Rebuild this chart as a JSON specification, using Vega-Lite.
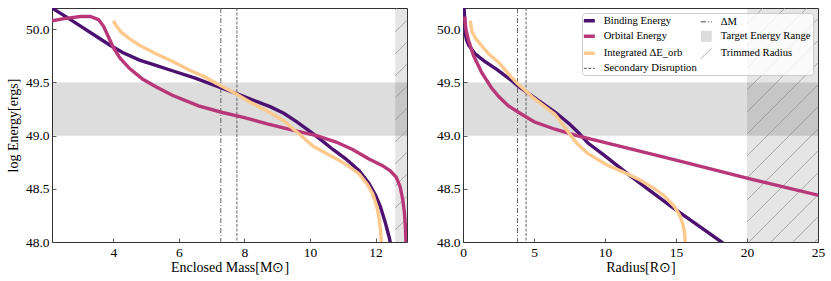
{
  "$schema": "https://vega.github.io/schema/vega-lite/v6.json",
  "padding": {"left": 5, "top": 7, "right": 5, "bottom": 0},
  "spacing": 27,
  "datasets": {
    "bands": [{"lo": 49.0, "hi": 49.5}],
    "left_trim": [{"m1": 12.6, "m2": 12.96}],
    "right_trim": [{"r1": 20, "r2": 25}],
    "left_hatch": [
      {"m1": 12.905, "e1": 48.0, "m2": 12.96, "e2": 48.017},
      {"m1": 12.6, "e1": 48.113, "m2": 12.96, "e2": 48.224},
      {"m1": 12.6, "e1": 48.32, "m2": 12.96, "e2": 48.431},
      {"m1": 12.6, "e1": 48.527, "m2": 12.96, "e2": 48.638},
      {"m1": 12.6, "e1": 48.733, "m2": 12.96, "e2": 48.844},
      {"m1": 12.6, "e1": 48.94, "m2": 12.96, "e2": 49.051},
      {"m1": 12.6, "e1": 49.147, "m2": 12.96, "e2": 49.258},
      {"m1": 12.6, "e1": 49.354, "m2": 12.96, "e2": 49.465},
      {"m1": 12.6, "e1": 49.561, "m2": 12.96, "e2": 49.672},
      {"m1": 12.6, "e1": 49.768, "m2": 12.96, "e2": 49.879},
      {"m1": 12.6, "e1": 49.974, "m2": 12.96, "e2": 50.085},
      {"m1": 12.6, "e1": 50.181, "m2": 12.661, "e2": 50.2}
    ],
    "right_hatch": [
      {"r1": 24.775, "e1": 48.0, "r2": 25, "e2": 48.03},
      {"r1": 23.23, "e1": 48.0, "r2": 25, "e2": 48.237},
      {"r1": 21.685, "e1": 48.0, "r2": 25, "e2": 48.444},
      {"r1": 20.14, "e1": 48.0, "r2": 25, "e2": 48.651},
      {"r1": 20, "e1": 48.188, "r2": 25, "e2": 48.857},
      {"r1": 20, "e1": 48.395, "r2": 25, "e2": 49.064},
      {"r1": 20, "e1": 48.602, "r2": 25, "e2": 49.271},
      {"r1": 20, "e1": 48.809, "r2": 25, "e2": 49.478},
      {"r1": 20, "e1": 49.015, "r2": 25, "e2": 49.685},
      {"r1": 20, "e1": 49.222, "r2": 25, "e2": 49.892},
      {"r1": 20, "e1": 49.429, "r2": 25, "e2": 50.099},
      {"r1": 20, "e1": 49.636, "r2": 24.213, "e2": 50.2},
      {"r1": 20, "e1": 49.843, "r2": 22.669, "e2": 50.2},
      {"r1": 20, "e1": 50.05, "r2": 21.124, "e2": 50.2}
    ],
    "left_markers": [
      {"line": "ΔM", "mass": 7.28},
      {"line": "Secondary Disruption", "mass": 7.77}
    ],
    "right_markers": [
      {"line": "ΔM", "radius": 3.84},
      {"line": "Secondary Disruption", "radius": 4.44}
    ],
    "left_energy": [
      {"series": "Binding Energy", "mass": 2.13, "energy": 50.2},
      {"series": "Binding Energy", "mass": 2.6, "energy": 50.11},
      {"series": "Binding Energy", "mass": 3.0, "energy": 50.03},
      {"series": "Binding Energy", "mass": 3.5, "energy": 49.93},
      {"series": "Binding Energy", "mass": 3.9, "energy": 49.85},
      {"series": "Binding Energy", "mass": 4.3, "energy": 49.78},
      {"series": "Binding Energy", "mass": 4.8, "energy": 49.71},
      {"series": "Binding Energy", "mass": 5.3, "energy": 49.66},
      {"series": "Binding Energy", "mass": 5.8, "energy": 49.61},
      {"series": "Binding Energy", "mass": 6.5, "energy": 49.54},
      {"series": "Binding Energy", "mass": 7.28, "energy": 49.45},
      {"series": "Binding Energy", "mass": 7.8, "energy": 49.39},
      {"series": "Binding Energy", "mass": 8.3, "energy": 49.33},
      {"series": "Binding Energy", "mass": 8.8, "energy": 49.27},
      {"series": "Binding Energy", "mass": 9.2, "energy": 49.21},
      {"series": "Binding Energy", "mass": 9.6, "energy": 49.13},
      {"series": "Binding Energy", "mass": 10.0, "energy": 49.04},
      {"series": "Binding Energy", "mass": 10.3, "energy": 48.97},
      {"series": "Binding Energy", "mass": 10.7, "energy": 48.87},
      {"series": "Binding Energy", "mass": 11.1, "energy": 48.78},
      {"series": "Binding Energy", "mass": 11.5, "energy": 48.67},
      {"series": "Binding Energy", "mass": 11.8, "energy": 48.55},
      {"series": "Binding Energy", "mass": 12.0, "energy": 48.44},
      {"series": "Binding Energy", "mass": 12.15, "energy": 48.33},
      {"series": "Binding Energy", "mass": 12.3, "energy": 48.18},
      {"series": "Binding Energy", "mass": 12.42, "energy": 48.04},
      {"series": "Binding Energy", "mass": 12.46, "energy": 47.98},
      {"series": "Orbital Energy", "mass": 2.13, "energy": 50.08},
      {"series": "Orbital Energy", "mass": 2.5, "energy": 50.1},
      {"series": "Orbital Energy", "mass": 3.0, "energy": 50.12},
      {"series": "Orbital Energy", "mass": 3.3, "energy": 50.12},
      {"series": "Orbital Energy", "mass": 3.55, "energy": 50.09},
      {"series": "Orbital Energy", "mass": 3.7, "energy": 50.03},
      {"series": "Orbital Energy", "mass": 3.85, "energy": 49.93},
      {"series": "Orbital Energy", "mass": 4.0, "energy": 49.83},
      {"series": "Orbital Energy", "mass": 4.2, "energy": 49.73},
      {"series": "Orbital Energy", "mass": 4.5, "energy": 49.63},
      {"series": "Orbital Energy", "mass": 4.9, "energy": 49.53},
      {"series": "Orbital Energy", "mass": 5.3, "energy": 49.46},
      {"series": "Orbital Energy", "mass": 5.8, "energy": 49.38},
      {"series": "Orbital Energy", "mass": 6.6, "energy": 49.28},
      {"series": "Orbital Energy", "mass": 7.3, "energy": 49.22},
      {"series": "Orbital Energy", "mass": 8.0, "energy": 49.17},
      {"series": "Orbital Energy", "mass": 8.7, "energy": 49.11},
      {"series": "Orbital Energy", "mass": 9.5, "energy": 49.05},
      {"series": "Orbital Energy", "mass": 10.2, "energy": 49.0},
      {"series": "Orbital Energy", "mass": 10.8, "energy": 48.94},
      {"series": "Orbital Energy", "mass": 11.3, "energy": 48.87},
      {"series": "Orbital Energy", "mass": 11.8, "energy": 48.78},
      {"series": "Orbital Energy", "mass": 12.2, "energy": 48.72},
      {"series": "Orbital Energy", "mass": 12.45, "energy": 48.67},
      {"series": "Orbital Energy", "mass": 12.63, "energy": 48.61},
      {"series": "Orbital Energy", "mass": 12.75, "energy": 48.52},
      {"series": "Orbital Energy", "mass": 12.83, "energy": 48.4},
      {"series": "Orbital Energy", "mass": 12.88, "energy": 48.28},
      {"series": "Orbital Energy", "mass": 12.91, "energy": 48.15},
      {"series": "Orbital Energy", "mass": 12.93, "energy": 47.98},
      {"series": "Integrated ΔE_orb", "mass": 4.0, "energy": 50.08},
      {"series": "Integrated ΔE_orb", "mass": 4.1, "energy": 50.03},
      {"series": "Integrated ΔE_orb", "mass": 4.25, "energy": 49.97},
      {"series": "Integrated ΔE_orb", "mass": 4.5, "energy": 49.91},
      {"series": "Integrated ΔE_orb", "mass": 4.8, "energy": 49.85},
      {"series": "Integrated ΔE_orb", "mass": 5.3, "energy": 49.77},
      {"series": "Integrated ΔE_orb", "mass": 5.8, "energy": 49.7},
      {"series": "Integrated ΔE_orb", "mass": 6.3, "energy": 49.62},
      {"series": "Integrated ΔE_orb", "mass": 6.8, "energy": 49.55},
      {"series": "Integrated ΔE_orb", "mass": 7.28, "energy": 49.47},
      {"series": "Integrated ΔE_orb", "mass": 7.7, "energy": 49.4},
      {"series": "Integrated ΔE_orb", "mass": 8.2, "energy": 49.31},
      {"series": "Integrated ΔE_orb", "mass": 8.7, "energy": 49.23},
      {"series": "Integrated ΔE_orb", "mass": 9.2, "energy": 49.14},
      {"series": "Integrated ΔE_orb", "mass": 9.5, "energy": 49.06},
      {"series": "Integrated ΔE_orb", "mass": 9.8, "energy": 48.98},
      {"series": "Integrated ΔE_orb", "mass": 10.1, "energy": 48.9},
      {"series": "Integrated ΔE_orb", "mass": 10.7, "energy": 48.8},
      {"series": "Integrated ΔE_orb", "mass": 11.1, "energy": 48.73},
      {"series": "Integrated ΔE_orb", "mass": 11.5, "energy": 48.64},
      {"series": "Integrated ΔE_orb", "mass": 11.75, "energy": 48.54},
      {"series": "Integrated ΔE_orb", "mass": 11.92, "energy": 48.45},
      {"series": "Integrated ΔE_orb", "mass": 12.05, "energy": 48.32},
      {"series": "Integrated ΔE_orb", "mass": 12.12, "energy": 48.2},
      {"series": "Integrated ΔE_orb", "mass": 12.16, "energy": 48.08},
      {"series": "Integrated ΔE_orb", "mass": 12.18, "energy": 47.98}
    ],
    "right_energy": [
      {"series": "Binding Energy", "radius": 0.08, "energy": 50.2},
      {"series": "Binding Energy", "radius": 0.12, "energy": 50.08},
      {"series": "Binding Energy", "radius": 0.16, "energy": 49.96},
      {"series": "Binding Energy", "radius": 0.25, "energy": 49.9},
      {"series": "Binding Energy", "radius": 0.4, "energy": 49.85},
      {"series": "Binding Energy", "radius": 0.85, "energy": 49.77},
      {"series": "Binding Energy", "radius": 1.5, "energy": 49.7},
      {"series": "Binding Energy", "radius": 2.4, "energy": 49.62},
      {"series": "Binding Energy", "radius": 3.4, "energy": 49.52},
      {"series": "Binding Energy", "radius": 3.84, "energy": 49.47},
      {"series": "Binding Energy", "radius": 5.0, "energy": 49.36},
      {"series": "Binding Energy", "radius": 6.5, "energy": 49.22},
      {"series": "Binding Energy", "radius": 7.5, "energy": 49.11},
      {"series": "Binding Energy", "radius": 8.12, "energy": 49.03},
      {"series": "Binding Energy", "radius": 8.8, "energy": 48.93},
      {"series": "Binding Energy", "radius": 10.0, "energy": 48.81},
      {"series": "Binding Energy", "radius": 11.6, "energy": 48.64},
      {"series": "Binding Energy", "radius": 13.0, "energy": 48.5},
      {"series": "Binding Energy", "radius": 14.7, "energy": 48.33},
      {"series": "Binding Energy", "radius": 16.5, "energy": 48.16},
      {"series": "Binding Energy", "radius": 18.2, "energy": 48.0},
      {"series": "Binding Energy", "radius": 18.4, "energy": 47.98},
      {"series": "Orbital Energy", "radius": 0.12, "energy": 50.12},
      {"series": "Orbital Energy", "radius": 0.2, "energy": 50.0},
      {"series": "Orbital Energy", "radius": 0.4, "energy": 49.89},
      {"series": "Orbital Energy", "radius": 0.75, "energy": 49.75},
      {"series": "Orbital Energy", "radius": 1.33, "energy": 49.59},
      {"series": "Orbital Energy", "radius": 2.0, "energy": 49.45},
      {"series": "Orbital Energy", "radius": 2.5, "energy": 49.37},
      {"series": "Orbital Energy", "radius": 3.2, "energy": 49.28},
      {"series": "Orbital Energy", "radius": 3.9, "energy": 49.22},
      {"series": "Orbital Energy", "radius": 5.0, "energy": 49.13},
      {"series": "Orbital Energy", "radius": 6.48, "energy": 49.06},
      {"series": "Orbital Energy", "radius": 8.0, "energy": 49.0},
      {"series": "Orbital Energy", "radius": 9.52, "energy": 48.95},
      {"series": "Orbital Energy", "radius": 15.0, "energy": 48.77},
      {"series": "Orbital Energy", "radius": 20.0, "energy": 48.6},
      {"series": "Orbital Energy", "radius": 25.0, "energy": 48.44},
      {"series": "Integrated ΔE_orb", "radius": 0.51, "energy": 50.08},
      {"series": "Integrated ΔE_orb", "radius": 0.63, "energy": 49.98},
      {"series": "Integrated ΔE_orb", "radius": 0.86, "energy": 49.92},
      {"series": "Integrated ΔE_orb", "radius": 1.22, "energy": 49.86},
      {"series": "Integrated ΔE_orb", "radius": 1.8, "energy": 49.77},
      {"series": "Integrated ΔE_orb", "radius": 2.5, "energy": 49.69},
      {"series": "Integrated ΔE_orb", "radius": 3.2, "energy": 49.58},
      {"series": "Integrated ΔE_orb", "radius": 3.84, "energy": 49.49},
      {"series": "Integrated ΔE_orb", "radius": 5.0, "energy": 49.35},
      {"series": "Integrated ΔE_orb", "radius": 6.48, "energy": 49.2},
      {"series": "Integrated ΔE_orb", "radius": 7.1, "energy": 49.09},
      {"series": "Integrated ΔE_orb", "radius": 7.6, "energy": 49.0},
      {"series": "Integrated ΔE_orb", "radius": 8.0, "energy": 48.93},
      {"series": "Integrated ΔE_orb", "radius": 8.8, "energy": 48.83},
      {"series": "Integrated ΔE_orb", "radius": 10.2, "energy": 48.72},
      {"series": "Integrated ΔE_orb", "radius": 11.6, "energy": 48.64},
      {"series": "Integrated ΔE_orb", "radius": 12.5, "energy": 48.58},
      {"series": "Integrated ΔE_orb", "radius": 13.5, "energy": 48.5},
      {"series": "Integrated ΔE_orb", "radius": 14.2, "energy": 48.43},
      {"series": "Integrated ΔE_orb", "radius": 14.9, "energy": 48.33},
      {"series": "Integrated ΔE_orb", "radius": 15.3, "energy": 48.24},
      {"series": "Integrated ΔE_orb", "radius": 15.5, "energy": 48.16},
      {"series": "Integrated ΔE_orb", "radius": 15.62, "energy": 48.07},
      {"series": "Integrated ΔE_orb", "radius": 15.66, "energy": 47.98}
    ]
  },
  "hconcat": [
    {
      "width": 355,
      "height": 234,
      "layer": [
        {
          "data": {"name": "bands"},
          "mark": {"type": "rect", "fill": "#000000", "opacity": 0.135},
          "encoding": {
            "y": {"field": "lo", "type": "quantitative", "scale": {"domain": [48, 50.2], "nice": false, "zero": false}, "axis": {"title": "log Energy[ergs]", "values": [48, 48.5, 49, 49.5, 50], "format": ".1f"}},
            "y2": {"field": "hi"}
          }
        },
        {
          "data": {"name": "left_trim"},
          "mark": {"type": "rect", "fill": "#000000", "opacity": 0.1},
          "encoding": {
            "x": {"field": "m1", "type": "quantitative", "scale": {"domain": [2.13, 12.96], "nice": false, "zero": false}, "axis": {"title": "Enclosed Mass[M⊙]", "values": [4, 6, 8, 10, 12]}},
            "x2": {"field": "m2"}
          }
        },
        {
          "data": {"name": "left_hatch"},
          "mark": {"type": "rule", "color": "#8c8c8c", "strokeWidth": 0.7},
          "encoding": {
            "x": {"field": "m1", "type": "quantitative", "axis": {"title": "Enclosed Mass[M⊙]", "values": [4, 6, 8, 10, 12]}},
            "x2": {"field": "m2"},
            "y": {"field": "e1", "type": "quantitative", "axis": {"title": "log Energy[ergs]", "values": [48, 48.5, 49, 49.5, 50], "format": ".1f"}},
            "y2": {"field": "e2"}
          }
        },
        {
          "data": {"name": "left_markers"},
          "mark": {"type": "rule", "color": "#555555", "strokeWidth": 0.9},
          "encoding": {
            "x": {"field": "mass", "type": "quantitative", "axis": {"title": "Enclosed Mass[M⊙]", "values": [4, 6, 8, 10, 12]}},
            "strokeDash": {"field": "line", "type": "nominal", "scale": {"domain": ["ΔM", "Secondary Disruption"], "range": [[5, 2, 1, 2], [3, 1.5]]}, "legend": null}
          }
        },
        {
          "data": {"name": "left_energy"},
          "mark": {"type": "line", "strokeWidth": 3.4, "clip": true, "strokeCap": "butt"},
          "encoding": {
            "x": {"field": "mass", "type": "quantitative", "scale": {"domain": [2.13, 12.96], "nice": false, "zero": false}, "axis": {"title": "Enclosed Mass[M⊙]", "values": [4, 6, 8, 10, 12]}},
            "y": {"field": "energy", "type": "quantitative", "scale": {"domain": [48, 50.2], "nice": false, "zero": false}, "axis": {"title": "log Energy[ergs]", "values": [48, 48.5, 49, 49.5, 50], "format": ".1f"}},
            "color": {"field": "series", "type": "nominal", "scale": {"domain": ["Binding Energy", "Orbital Energy", "Integrated ΔE_orb", "Secondary Disruption", "ΔM", "Target Energy Range", "Trimmed Radius"], "range": ["#4c1070", "#b73779", "#fec98d", "#555555", "#444444", "#dcdcdc", "#999999"]}, "legend": null}
          }
        }
      ]
    },
    {
      "width": 355,
      "height": 234,
      "layer": [
        {
          "data": {"name": "bands"},
          "mark": {"type": "rect", "fill": "#000000", "opacity": 0.135},
          "encoding": {
            "y": {"field": "lo", "type": "quantitative", "scale": {"domain": [48, 50.2], "nice": false, "zero": false}, "axis": {"title": null, "values": [48, 48.5, 49, 49.5, 50], "format": ".1f"}},
            "y2": {"field": "hi"}
          }
        },
        {
          "data": {"name": "right_trim"},
          "mark": {"type": "rect", "fill": "#000000", "opacity": 0.1},
          "encoding": {
            "x": {"field": "r1", "type": "quantitative", "scale": {"domain": [0, 25], "nice": false, "zero": false}, "axis": {"title": "Radius[R⊙]", "values": [0, 5, 10, 15, 20, 25]}},
            "x2": {"field": "r2"}
          }
        },
        {
          "data": {"name": "right_hatch"},
          "mark": {"type": "rule", "color": "#8c8c8c", "strokeWidth": 0.7},
          "encoding": {
            "x": {"field": "r1", "type": "quantitative", "axis": {"title": "Radius[R⊙]", "values": [0, 5, 10, 15, 20, 25]}},
            "x2": {"field": "r2"},
            "y": {"field": "e1", "type": "quantitative", "axis": {"title": null, "values": [48, 48.5, 49, 49.5, 50], "format": ".1f"}},
            "y2": {"field": "e2"}
          }
        },
        {
          "data": {"name": "right_markers"},
          "mark": {"type": "rule", "color": "#555555", "strokeWidth": 0.9},
          "encoding": {
            "x": {"field": "radius", "type": "quantitative", "axis": {"title": "Radius[R⊙]", "values": [0, 5, 10, 15, 20, 25]}},
            "strokeDash": {"field": "line", "type": "nominal", "scale": {"domain": ["ΔM", "Secondary Disruption"], "range": [[5, 2, 1, 2], [3, 1.5]]}, "legend": null}
          }
        },
        {
          "data": {"name": "right_energy"},
          "mark": {"type": "line", "strokeWidth": 3.4, "clip": true, "strokeCap": "butt"},
          "encoding": {
            "x": {"field": "radius", "type": "quantitative", "scale": {"domain": [0, 25], "nice": false, "zero": false}, "axis": {"title": "Radius[R⊙]", "values": [0, 5, 10, 15, 20, 25]}},
            "y": {"field": "energy", "type": "quantitative", "scale": {"domain": [48, 50.2], "nice": false, "zero": false}, "axis": {"title": null, "values": [48, 48.5, 49, 49.5, 50], "format": ".1f"}},
            "color": {
              "field": "series",
              "type": "nominal",
              "scale": {"domain": ["Binding Energy", "Orbital Energy", "Integrated ΔE_orb", "Secondary Disruption", "ΔM", "Target Energy Range", "Trimmed Radius"], "range": ["#4c1070", "#b73779", "#fec98d", "#555555", "#444444", "#dcdcdc", "#999999"]},
              "legend": {
                "title": null,
                "orient": "top-right",
                "offset": 5,
                "columns": 2,
                "columnPadding": 1,
                "rowPadding": 1,
                "padding": 2,
                "symbolType": "stroke",
                "symbolSize": 120,
                "symbolStrokeWidth": 3.5,
                "labelFontSize": 10.65,
                "labelFont": "Liberation Serif",
                "labelColor": "#000000",
                "labelOffset": 9,
                "labelLimit": 250,
                "fillColor": "rgba(255,255,255,0.8)",
                "strokeColor": "#cccccc",
                "cornerRadius": 3,
                "encode": {
                  "symbols": {
                    "update": {
                      "shape": {"signal": "datum.value === 'Target Energy Range' ? 'square' : datum.value === 'Trimmed Radius' ? 'M-1,1L1,-1' : 'stroke'"},
                      "fill": {"signal": "datum.value === 'Target Energy Range' ? '#dcdcdc' : 'transparent'"},
                      "strokeDash": {"signal": "datum.value === 'ΔM' ? [5, 2, 1, 2] : datum.value === 'Secondary Disruption' ? [3, 1.5] : [1, 0]"},
                      "strokeWidth": {"signal": "(datum.value === 'ΔM' || datum.value === 'Secondary Disruption' || datum.value === 'Trimmed Radius') ? 1 : datum.value === 'Target Energy Range' ? 0 : 3.5"}
                    }
                  }
                }
              }
            }
          }
        }
      ]
    }
  ],
  "resolve": {"scale": {"color": "independent"}, "legend": {"color": "independent"}},
  "config": {
    "font": "Liberation Serif",
    "view": {"stroke": "#333333", "strokeWidth": 1},
    "axis": {
      "domain": false,
      "grid": false,
      "ticks": true,
      "tickSize": -4,
      "tickColor": "#333333",
      "tickWidth": 0.8,
      "labelPadding": 7,
      "labelFontSize": 13.5,
      "labelColor": "#000000",
      "labelFont": "Liberation Serif",
      "labelFlush": false,
      "labelOverlap": false,
      "titleFont": "Liberation Serif",
      "titleFontSize": 14,
      "titleColor": "#000000",
      "titleFontWeight": "normal"
    },
    "axisX": {"titlePadding": 2},
    "axisY": {"titlePadding": 5}
  }
}
